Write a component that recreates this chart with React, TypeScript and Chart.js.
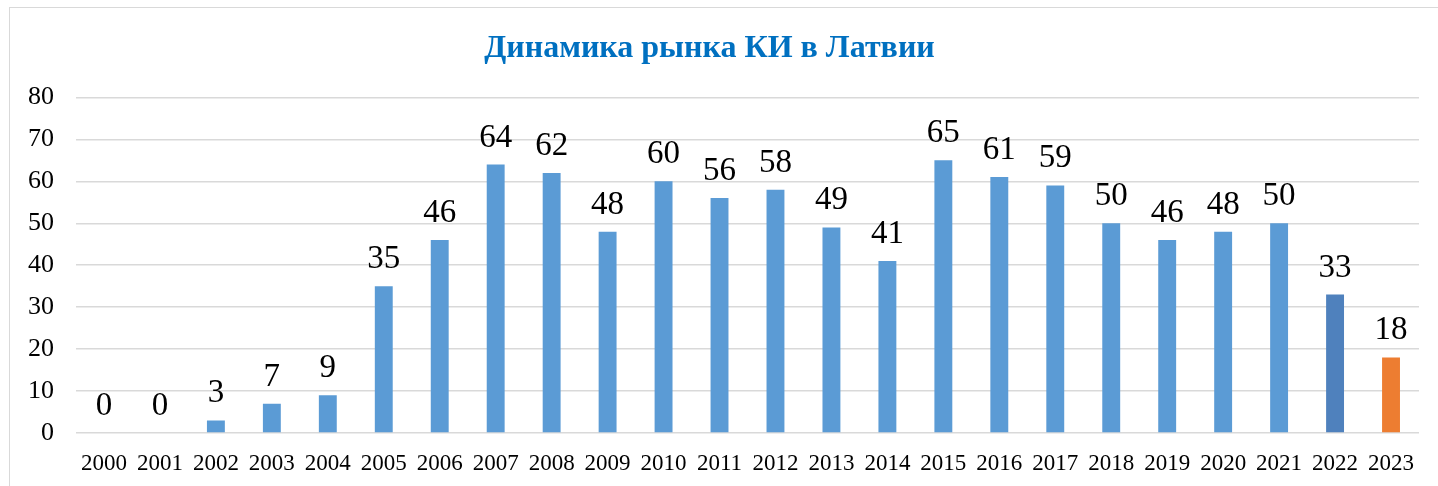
import React, { useEffect, useRef } from "react";
import { Chart, registerables } from "chart.js";

Chart.register(...registerables);

const categories = ["2000","2001","2002","2003","2004","2005","2006","2007","2008","2009","2010","2011","2012","2013","2014","2015","2016","2017","2018","2019","2020","2021","2022","2023"];
const values = [0,0,3,7,9,35,46,64,62,48,60,56,58,49,41,65,61,59,50,46,48,50,33,18];
const barColors = categories.map((c) => (c === "2023" ? "#ED7D31" : c === "2022" ? "#4F81BD" : "#5B9BD5"));
const titleText = "Динамика рынка КИ в Латвии";
const yMin = 0;
const yMax = 80;
const yStep = 10;

const FONT = "'Liberation Serif', 'Times New Roman', serif";

const valueLabels = {
  id: "valueLabels",
  afterDatasetsDraw(chart: any) {
    const ctx = chart.ctx;
    const meta = chart.getDatasetMeta(0);
    ctx.save();
    ctx.font = `33px ${FONT}`;
    ctx.fillStyle = "#000000";
    ctx.textAlign = "center";
    ctx.textBaseline = "alphabetic";
    meta.data.forEach((el: any, i: number) => {
      ctx.fillText(String(values[i]), el.x, el.y - 18);
    });
    ctx.restore();
  },
};

export default function App() {
  const ref = useRef<HTMLCanvasElement | null>(null);
  useEffect(() => {
    if (!ref.current) return;
    const chart = new Chart(ref.current, {
      type: "bar",
      data: {
        labels: categories,
        datasets: [
          {
            data: values,
            backgroundColor: barColors,
            barPercentage: 0.32,
            categoryPercentage: 1,
          },
        ],
      },
      options: {
        responsive: false,
        animation: false,
        layout: { padding: { left: 0, right: 19, top: 0, bottom: 0 } },
        plugins: {
          legend: { display: false },
          tooltip: { enabled: false },
          title: {
            display: true,
            text: titleText,
            color: "#0070C0",
            font: { family: FONT, size: 32, weight: "bold" },
            padding: { top: 30, bottom: 29 },
          },
        },
        scales: {
          x: {
            grid: { display: false, drawTicks: false },
            border: { display: false },
            ticks: { color: "#000", font: { family: FONT, size: 23 }, padding: 17, maxRotation: 0, autoSkip: false },
            afterFit: (s: any) => { s.height = 53; },
          },
          y: {
            min: yMin,
            max: yMax,
            ticks: { stepSize: yStep, color: "#000", font: { family: FONT, size: 26 }, padding: 22 },
            grid: { color: "#D9D9D9", lineWidth: 1.5, drawTicks: false },
            border: { display: false },
            afterFit: (s: any) => { s.width = 76; },
          },
        },
      },
      plugins: [valueLabels],
    });
    return () => chart.destroy();
  }, []);
  return (
    <div style={{ position: "fixed", left: 0, top: 0, width: 1438, height: 486, overflow: "hidden", background: "#fff" }}>
      <div style={{ position: "absolute", left: 9, top: 7, width: 1440, height: 500, border: "1px solid #D9D9D9", boxSizing: "border-box" }} />
      <canvas ref={ref} width={1438} height={486} style={{ position: "absolute", left: 0, top: 0 }} />
    </div>
  );
}
